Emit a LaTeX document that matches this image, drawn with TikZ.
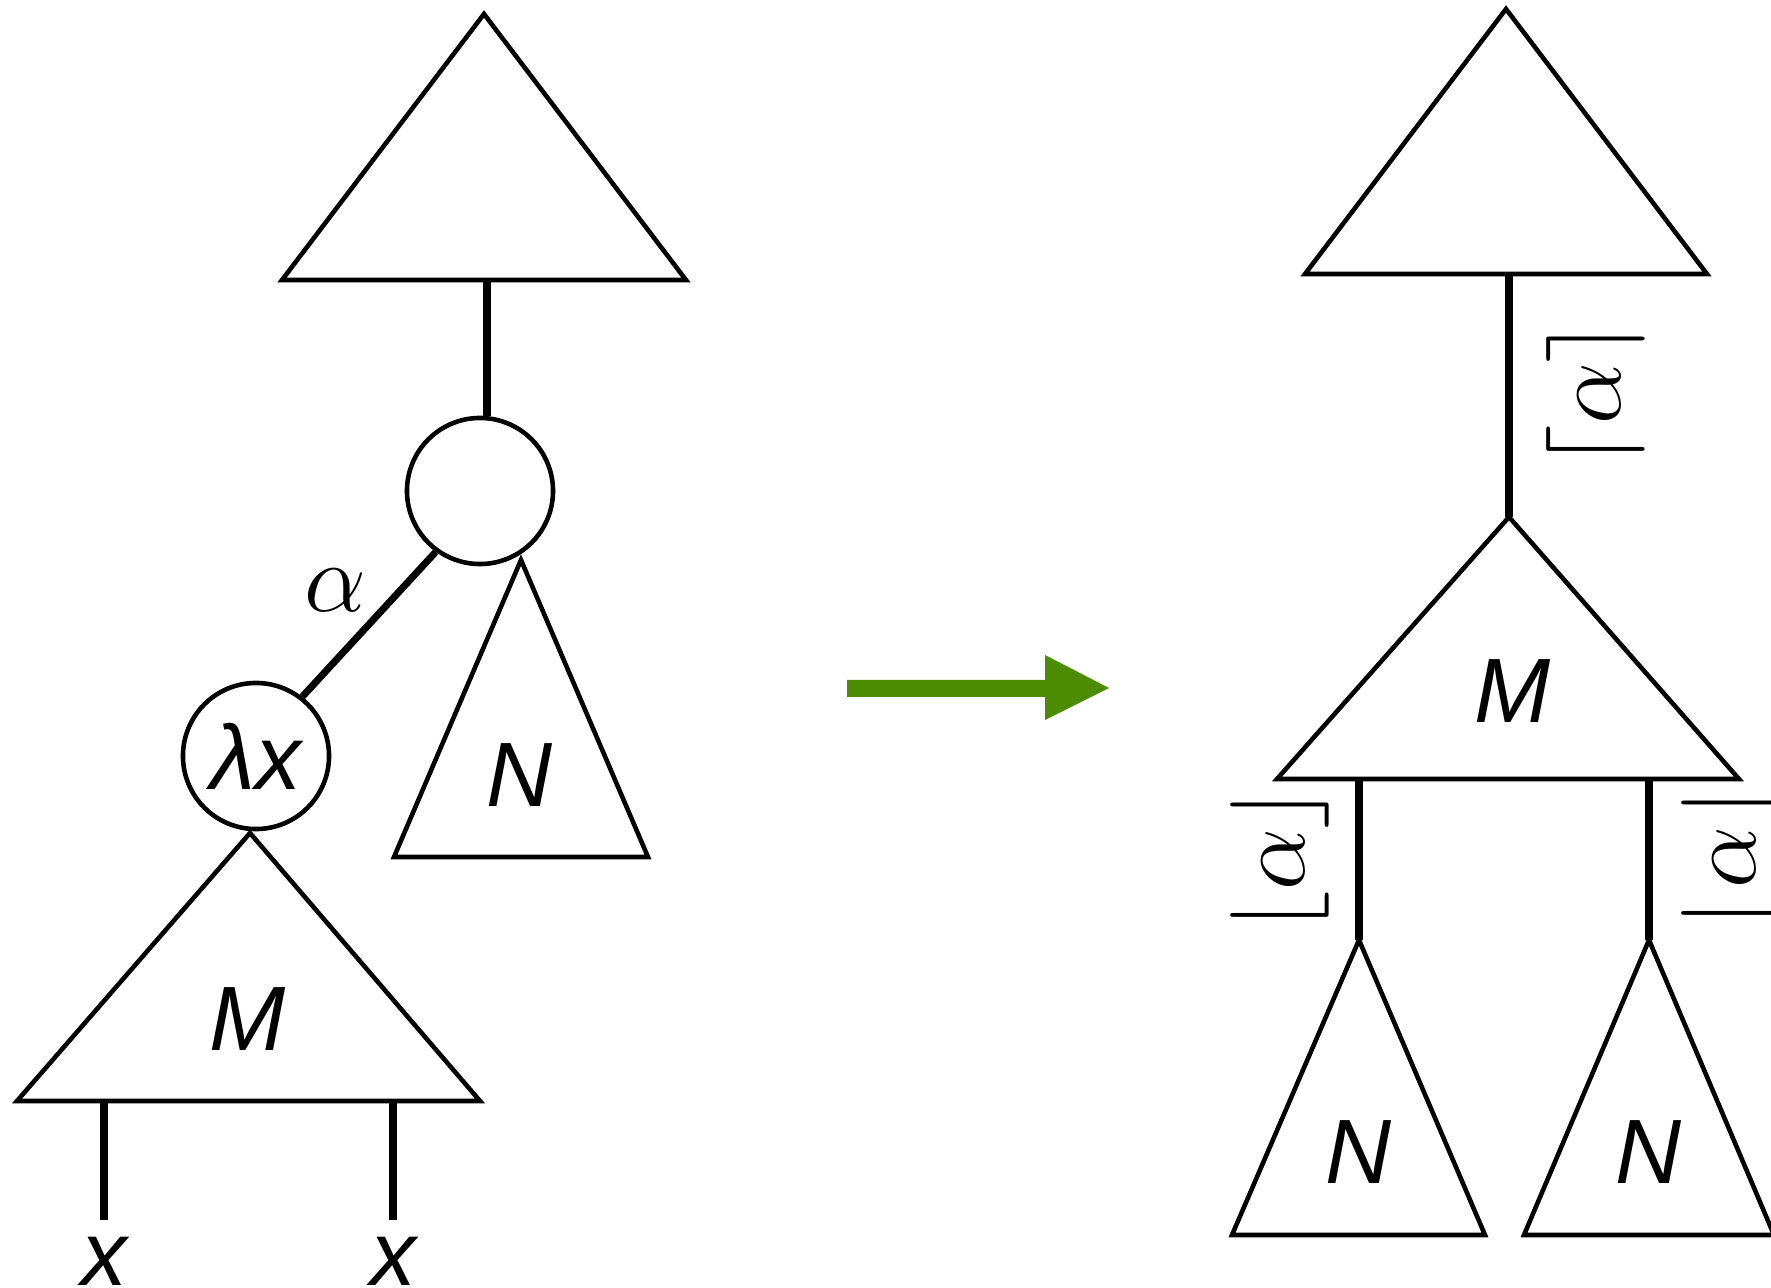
\RequirePackage{fix-cm}
\documentclass[tikz,border=0pt]{standalone}
\usepackage{fontspec}
\setsansfont{Liberation Sans}
\definecolor{arrowgreen}{RGB}{77,139,0}
\tikzset{
  tri/.style={draw=black, line width=1.3pt, line join=miter},
  edge/.style={draw=black, line width=2pt},
  vtx/.style={circle, draw=black, line width=1.3pt, minimum size=1.46cm, inner sep=0pt},
  lbl/.style={font=\fontsize{26}{30}\selectfont\sffamily\itshape, inner sep=0pt},
  mlbl/.style={font=\fontsize{28}{32}\selectfont, inner sep=0pt},
}
\begin{document}
\begin{tikzpicture}[x=0.01cm,y=-0.01cm]
\useasboundingbox (0,0) rectangle (1771,1288);
% ---------- left tree ----------
\coordinate (LTa) at (484,14);
\coordinate (LTl) at (282,280);
\coordinate (LTr) at (686,280);
\coordinate (LTb) at (487,280);
\draw[tri] (LTa) -- (LTl) -- (LTr) -- cycle;
\node[vtx] (app) at (480,491) {};
\draw[edge] (LTb) -- (LTb |- app.north);
\node[vtx, lbl] (lam) at (256,756) {λx};
\draw[edge] (app.234) -- (lam.52);
\node[mlbl] (alab) at (335,590) {$\alpha$};
% N triangle (left)
\coordinate (LNa) at (521,560);
\coordinate (LNl) at (394,857);
\coordinate (LNr) at (648,857);
\draw[tri] (LNa) -- (LNl) -- (LNr) -- cycle;
\node[lbl] (LN) at (520,775) {N};
% M triangle (left)
\coordinate (LMa) at (250,833);
\coordinate (LMl) at (17,1101);
\coordinate (LMr) at (480,1101);
\draw[tri] (LMa) -- (LMl) -- (LMr) -- cycle;
\node[lbl] (LM) at (248,1019) {M};
\coordinate (LMf1) at (104,1101);
\coordinate (LMf2) at (393,1101);
\coordinate (LX1e) at (104,1220);
\coordinate (LX2e) at (393,1220);
\draw[edge] (LMf1) -- (LX1e);
\draw[edge] (LMf2) -- (LX2e);
\node[lbl, anchor=base] (x1) at (104,1285) {x};
\node[lbl, anchor=base] (x2) at (393,1285) {x};
% ---------- arrow ----------
\fill[arrowgreen] (847,680) -- (1045,680) -- (1045,655) -- (1109,688)
  -- (1045,720) -- (1045,697) -- (847,697) -- cycle;
% ---------- right tree ----------
\coordinate (RTa) at (1506,9);
\coordinate (RTl) at (1305,274);
\coordinate (RTr) at (1707,274);
\coordinate (RTb) at (1509,274);
\draw[tri] (RTa) -- (RTl) -- (RTr) -- cycle;
\coordinate (RMa) at (1509,517);
\coordinate (RMl) at (1277,779);
\coordinate (RMr) at (1739,779);
\draw[tri] (RMa) -- (RMl) -- (RMr) -- cycle;
\draw[edge] (RTb) -- (RMa);
\node[lbl] (RM) at (1513,691) {M};
\node[mlbl, rotate=90] (b1) at (1596,394) {$\lceil\alpha\rceil$};
% legs
\coordinate (RMf1) at (1359,779);
\coordinate (RMf2) at (1649,779);
\coordinate (RN1a) at (1359,940);
\coordinate (RN2a) at (1649,940);
\draw[edge] (RMf1) -- (RN1a);
\draw[edge] (RMf2) -- (RN2a);
\node[mlbl, rotate=90] (b2) at (1280,860) {$\lfloor\alpha\rfloor$};
\node[mlbl, rotate=90] (b3) at (1731,858) {$\lfloor\alpha\rfloor$};
% N triangles
\coordinate (RN1l) at (1232,1235);
\coordinate (RN1r) at (1485,1235);
\draw[tri] (RN1a) -- (RN1l) -- (RN1r) -- cycle;
\node[lbl] (RN1) at (1359,1152) {N};
\coordinate (RN2l) at (1524,1235);
\coordinate (RN2r) at (1774,1235);
\draw[tri] (RN2a) -- (RN2l) -- (RN2r) -- cycle;
\node[lbl] (RN2) at (1649,1152) {N};
\end{tikzpicture}
\end{document}
